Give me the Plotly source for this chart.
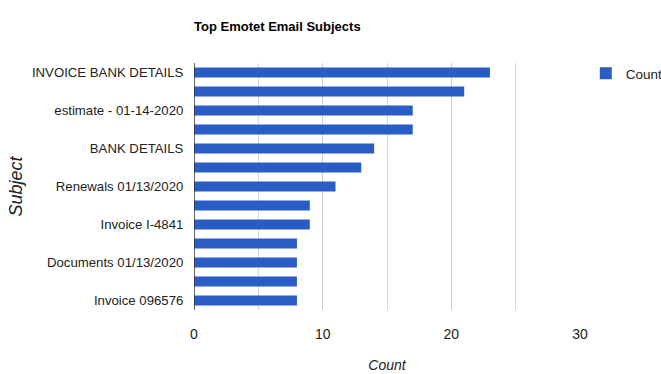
import plotly.graph_objects as go

# Subjects in chart order (top to bottom); labels not printed in the reference are left blank
subjects = [
    "INVOICE BANK DETAILS", "", "estimate - 01-14-2020", "", "BANK DETAILS", "",
    "Renewals 01/13/2020", "", "Invoice I-4841", "", "Documents 01/13/2020", "",
    "Invoice 096576",
]
counts = [23, 21, 17, 17, 14, 13, 11, 9, 9, 8, 8, 8, 8]
x_ticks = [0, 10, 20, 30]

positions = list(range(len(subjects)))

FONT = "Liberation Sans, Arial, sans-serif"
BLUE = "#2a5cc5"

fig = go.Figure()
fig.add_trace(go.Bar(
    x=counts,
    y=positions,
    orientation="h",
    name="Count",
    marker=dict(color=BLUE, line=dict(width=0)),
))

fig.update_layout(
    width=661,
    height=374,
    margin=dict(l=194, r=81, t=63, b=64, autoexpand=False),
    paper_bgcolor="white",
    plot_bgcolor="white",
    bargap=0.48,
    font=dict(family=FONT, color="#222222", size=13),
    title=dict(
        text="<b>Top Emotet Email Subjects</b>",
        font=dict(family=FONT, size=13, color="#000000"),
        x=0, xref="paper", xanchor="left",
        y=0.93, yref="container", yanchor="middle",
    ),
    showlegend=True,
    legend=dict(
        x=1.015, xanchor="left", y=1.02, yanchor="top",
        font=dict(family=FONT, size=13.5, color="#222222"),
        bgcolor="rgba(0,0,0,0)",
    ),
    xaxis=dict(
        range=[0, 30],
        tickvals=x_ticks,
        ticktext=[str(v) for v in x_ticks],
        showgrid=True,
        gridcolor="#cccccc",
        gridwidth=1,
        minor=dict(dtick=5, showgrid=True, gridcolor="#d6d6d6", tick0=0),
        zeroline=False,
        showline=False,
        ticks="outside",
        ticklen=11,
        tickcolor="rgba(0,0,0,0)",
        tickfont=dict(size=14, color="#222222"),
        title=dict(text="<i>Count</i>", font=dict(size=14, color="#222222"), standoff=19),
        automargin=False,
    ),
    yaxis=dict(
        range=[len(subjects) - 0.5, -0.5],
        tickvals=positions,
        ticktext=subjects,
        showgrid=False,
        zeroline=False,
        showline=False,
        ticks="outside",
        ticklen=7,
        tickcolor="rgba(0,0,0,0)",
        tickfont=dict(size=13.2, color="#222222"),
        title=dict(text="<i>Subject</i>", font=dict(size=18, color="#222222"), standoff=4),
        automargin=False,
    ),
    shapes=[dict(
        type="line", xref="x", yref="paper",
        x0=0, x1=0, y0=0, y1=1,
        line=dict(color="#333333", width=1.5),
        layer="above",
    )],
)

fig.write_html(
    "out.html",
    config={"displayModeBar": False},
    post_script="document.body.style.margin='0';",
)
